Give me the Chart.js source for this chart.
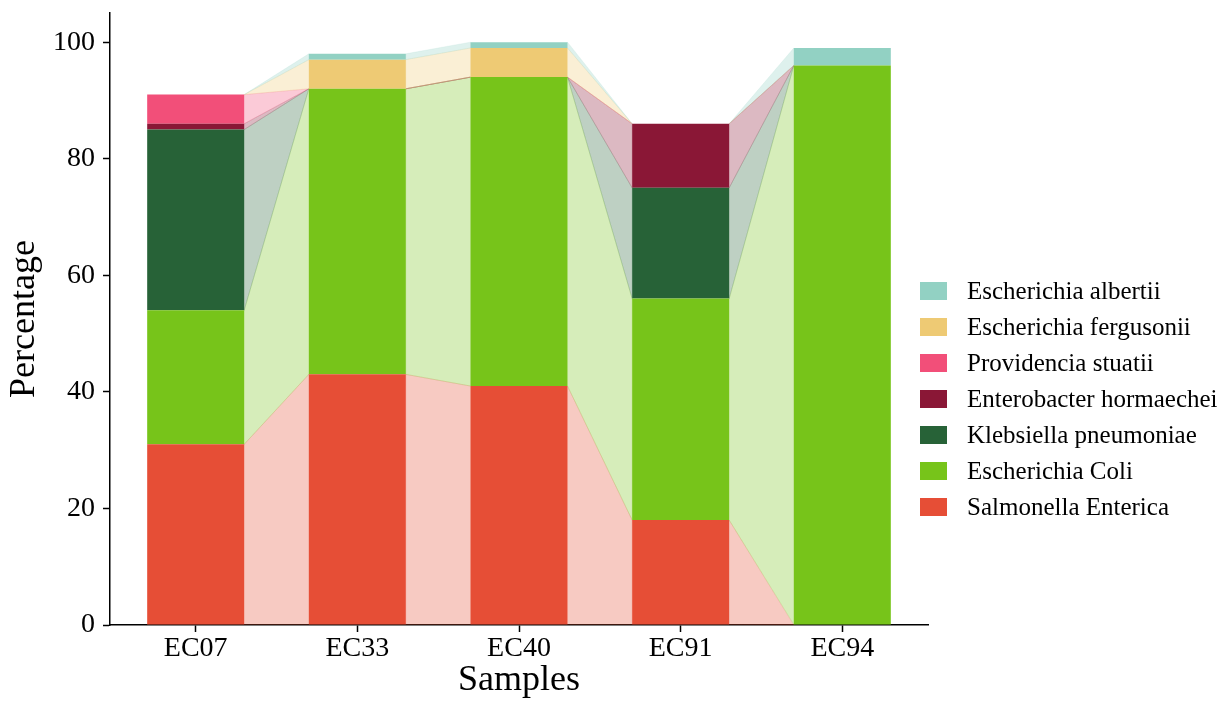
<!DOCTYPE html>
<html>
<head>
<meta charset="utf-8">
<script src="https://cdn.jsdelivr.net/npm/chart.js@4.4.1/dist/chart.umd.min.js"></script>
<style>
    body { margin: 0; background: #fff; font-family: 'Liberation Serif', 'Times New Roman', serif; }
    #wrap { position: relative; width: 1225px; height: 702px; }
    #legend { position: absolute; left: 920px; top: 273px; }
    .item { display: flex; align-items: center; height: 36px; font-size: 25px; color: #000; white-space: nowrap; }
    .item .box { width: 27px; height: 18px; margin-right: 20px; }
</style>
</head>
<body>
<div id="wrap">
    <canvas id="flowChart"></canvas>
    <div id="legend"></div>
</div>
<script>
// Samples on the x axis
const samples = ["EC07", "EC33", "EC40", "EC91", "EC94"];
const yTicks = [0, 20, 40, 60, 80, 100];

// Percentages per species (bottom of the stack first)
const salmonella   = [31, 43, 41, 18, 0];
const ecoli        = [23, 49, 53, 38, 96];
const klebsiella   = [31, 0, 0, 19, 0];
const enterobacter = [1, 0, 0, 11, 0];
const providencia  = [5, 0, 0, 0, 0];
const fergusonii   = [0, 5, 5, 0, 0];
const albertii     = [0, 1, 1, 0, 3];

const species = [
    { name: "Salmonella Enterica",     values: salmonella,   color: "#E64E36" },
    { name: "Escherichia Coli",        values: ecoli,        color: "#77C41A" },
    { name: "Klebsiella pneumoniae",   values: klebsiella,   color: "#276237" },
    { name: "Enterobacter hormaechei", values: enterobacter, color: "#8A1736" },
    { name: "Providencia stuatii",     values: providencia,  color: "#F24F79" },
    { name: "Escherichia fergusonii",  values: fergusonii,   color: "#EECA74" },
    { name: "Escherichia albertii",    values: albertii,     color: "#92D1C3" }
];

const FONT = "'Liberation Serif', 'Times New Roman', serif";

// hex -> rgba with alpha
const fade = (hex, a) => {
    const n = parseInt(hex.slice(1), 16);
    return `rgba(${(n >> 16) & 255}, ${(n >> 8) & 255}, ${n & 255}, ${a})`;
};

// Draws the translucent bands joining each segment to the same segment of the next bar
const flowPlugin = {
    id: "flows",
    beforeDatasetsDraw(chart) {
        const ctx = chart.ctx;
        chart.data.datasets.forEach((ds, d) => {
            const bars = chart.getDatasetMeta(d).data;
            ctx.save();
            ctx.fillStyle = fade(ds.backgroundColor, 0.3);
            ctx.strokeStyle = fade(ds.backgroundColor, 0.25);
            ctx.lineWidth = 0.6;
            for (let i = 0; i < bars.length - 1; i++) {
                const a = bars[i], b = bars[i + 1];
                const x0 = a.x + a.width / 2, x1 = b.x - b.width / 2;
                ctx.beginPath();
                ctx.moveTo(x0, a.y);
                ctx.lineTo(x1, b.y);
                ctx.lineTo(x1, b.base);
                ctx.lineTo(x0, a.base);
                ctx.closePath();
                ctx.fill();
                ctx.stroke();
            }
            ctx.restore();
        });
    }
};

const datasets = species.map(s => ({
    label: s.name,
    data: s.values.map((v, i) => ({ x: i, y: v })),
    backgroundColor: s.color,
    borderWidth: 0,
    categoryPercentage: 1,
    barPercentage: 0.6
}));

new Chart(document.getElementById("flowChart"), {
    type: "bar",
    data: { datasets },
    plugins: [flowPlugin],
    options: {
        responsive: true,
        maintainAspectRatio: false,
        animation: false,
        layout: { padding: { top: 13, right: 297, left: 0, bottom: 0 } },
        plugins: { legend: { display: false }, tooltip: { enabled: false } },
        scales: {
            x: {
                type: "linear",
                stacked: true,
                offset: false,
                min: -0.53,
                max: samples.length - 1 + 0.53,
                afterBuildTicks: s => { s.ticks = samples.map((_, i) => ({ value: i })); },
                afterFit: s => { s.height = 77; s.paddingLeft = 0; s.paddingRight = 0; },
                ticks: {
                    callback: v => samples[v],
                    color: "#000",
                    padding: 0,
                    maxRotation: 0,
                    font: { family: FONT, size: 28 }
                },
                grid: { offset: false, drawOnChartArea: false, drawTicks: true, tickLength: 7, tickWidth: 1.5, tickColor: "#000" },
                border: { display: true, color: "#000", width: 1.5 },
                title: {
                    display: true,
                    text: "Samples",
                    color: "#000",
                    padding: { top: 0, bottom: 3 },
                    font: { family: FONT, size: 36, lineHeight: 1 }
                }
            },
            y: {
                stacked: true,
                min: 0,
                max: 105,
                afterBuildTicks: s => { s.ticks = yTicks.map(v => ({ value: v })); },
                afterFit: s => { s.width = 110; s.paddingTop = 0; s.paddingBottom = 0; },
                ticks: {
                    color: "#000",
                    padding: 8,
                    font: { family: FONT, size: 28 }
                },
                grid: { drawOnChartArea: false, drawTicks: true, tickLength: 7, tickWidth: 1.5, tickColor: "#000" },
                border: { display: true, color: "#000", width: 1.5 },
                title: {
                    display: true,
                    text: "Percentage",
                    color: "#000",
                    padding: { top: 7, bottom: 0 },
                    font: { family: FONT, size: 36, lineHeight: 1 }
                }
            }
        }
    }
});

// Legend, top entry is the top of the stack
const legend = document.getElementById("legend");
species.slice().reverse().forEach(s => {
    const row = document.createElement("div");
    row.className = "item";
    row.innerHTML = `<span class="box" style="background:${s.color}"></span><span>${s.name}</span>`;
    legend.appendChild(row);
});
</script>
</body>
</html>
